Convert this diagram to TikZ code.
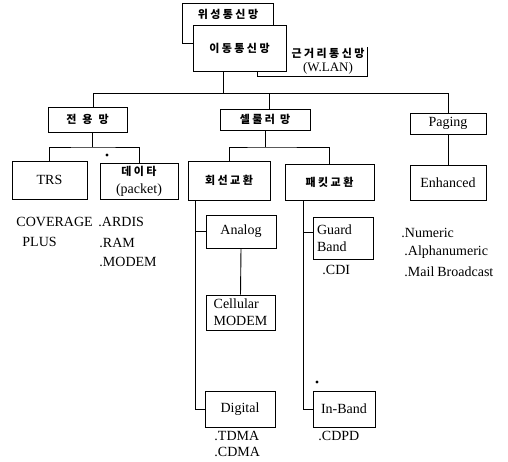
\documentclass[tikz,border=0pt]{standalone}
\usepackage{fontspec}
\setmainfont{Liberation Serif}
\newfontfamily\kr{Noto Sans CJK KR}[LetterSpace=22]
\begin{document}
\begin{tikzpicture}[x=1pt,y=-1pt,line width=0.9pt,
  box/.style={draw,fill=white,inner sep=0pt,font=\fontsize{14}{16}\selectfont},
  krbox/.style={box,font=\kr\bfseries\fontsize{11}{13}\selectfont},
  lbl/.style={anchor=west,inner sep=0pt,font=\fontsize{14}{16}\selectfont},
  krl/.style={inner sep=0pt,font=\kr\bfseries\fontsize{11}{13}\selectfont}]
\useasboundingbox (0,0) rectangle (508,461);
% top cluster
\node[draw,inner sep=0pt,minimum width=91pt,minimum height=40pt] (sat) at (227.5,23) {};
\node[krl] (satt) at (228,14) {위성통신망};
\node[inner sep=0pt,minimum width=109pt,minimum height=31pt] (lan) at (312.5,60.5) {};
\draw (lan.north west) -- (lan.south west) -- (lan.south east) -- ([yshift=-2pt]lan.north east);
\node[krl] (lant) at (328,53) {근거리통신망};
\node[inner sep=0pt,font=\fontsize{13}{15}\selectfont] (lanw) at (328,68.5) {(W.LAN)};
\node[krbox,minimum width=93pt,minimum height=46pt] (ido) at (239.5,48) {이동통신망};
% bus
\coordinate (busL) at (93,93);
\coordinate (busC) at (269,93);
\coordinate (busR) at (448,93);
\coordinate (bmid) at (223,93);
\draw (bmid |- ido.south) -- (bmid);
% level 2
\node[krbox,minimum width=79pt,minimum height=25pt] (jy) at (87.5,119.5) {전\hspace{6pt}용\hspace{6pt}망};
\node[krbox,minimum width=90pt,minimum height=21pt] (cel) at (265,119.5) {셀룰러\hspace{5pt}망};
\node[box,minimum width=76pt,minimum height=21pt] (pag) at (448,123.5) {Paging};
\draw (busL |- jy.north) -- (busL) -- (busR) -- (pag.north);
\draw (busC) -- (busC |- cel.north);
% level 3
\node[box,minimum width=75pt,minimum height=38pt] (trs) at (49.5,180) {TRS};
\node[box,minimum width=78pt,minimum height=36pt,align=center,font=\fontsize{14}{18}\selectfont] (dat) at (139,181) {{\kr\bfseries\fontsize{11}{13}\selectfont 데이타}\\(packet)};
\node[krbox,minimum width=82pt,minimum height=39pt] (hs) at (229,180.5) {회선교환};
\node[krbox,minimum width=89pt,minimum height=36pt] (pk) at (329.5,182) {패킷교환};
\node[box,minimum width=76pt,minimum height=35pt] (enh) at (448,182.5) {Enhanced};
\coordinate (j1) at (92,147);
\draw (j1 |- jy.south) -- (j1);
\draw (trs.north) |- (j1) -| (dat.north);
\fill (107,155) circle (1.7pt);
\coordinate (c1) at (265,147);
\draw (cel.south) -- (c1);
\draw (hs.north) |- (c1) -| (pk.north);
\draw (pag.south) -- (enh.north);
% labels
\node[lbl] (cov) at (16,222) {COVERAGE};
\node[lbl] (plus) at (22,242) {PLUS};
\node[lbl] (ardis) at (98,222) {.ARDIS};
\node[lbl] (ram) at (99,243) {.RAM};
\node[lbl] (modem) at (99,262) {.MODEM};
\node[lbl] (num) at (401,233) {.Numeric};
\node[lbl] (alpha) at (404,252) {.Alphanumeric};
\node[lbl] (mail) at (404,272) {.Mail\hspace{3pt}Broadcast};
% circuit switching
\node[box,minimum width=70pt,minimum height=33pt] (ana) at (241,231.5) {Analog};
\node[box,minimum width=69pt,minimum height=35pt,align=left,font=\fontsize{14}{17}\selectfont] (cm) at (240.5,312.5) {Cellular\\MODEM};
\node[box,minimum width=70pt,minimum height=36pt] (dig) at (240,409) {Digital};
\coordinate (h1) at (195,0);
\draw (h1 |- hs.south) |- (dig.west);
\draw (h1 |- ana.west) -- (ana.west);
\draw (ana.south) -- (cm.north);
\node[lbl] (tdma) at (214,436) {.TDMA};
\node[lbl] (cdma) at (214,452) {.CDMA};
% packet switching
\node[box,minimum width=60pt,minimum height=42pt,align=left,font=\fontsize{14}{17}\selectfont,text width=52pt] (gb) at (343,238) {Guard\\Band};
\node[box,minimum width=62pt,minimum height=36pt] (ib) at (344,409) {In-Band};
\coordinate (p1) at (303,0);
\draw (p1 |- pk.south) |- (ib.west);
\coordinate (g1) at (303,232);
\draw (g1) -- (g1 -| gb.west);
\fill (317,382) circle (1.7pt);
\node[lbl] (cdi) at (322,270) {.CDI};
\node[lbl] (cdpd) at (318,436) {.CDPD};
\end{tikzpicture}
\end{document}
